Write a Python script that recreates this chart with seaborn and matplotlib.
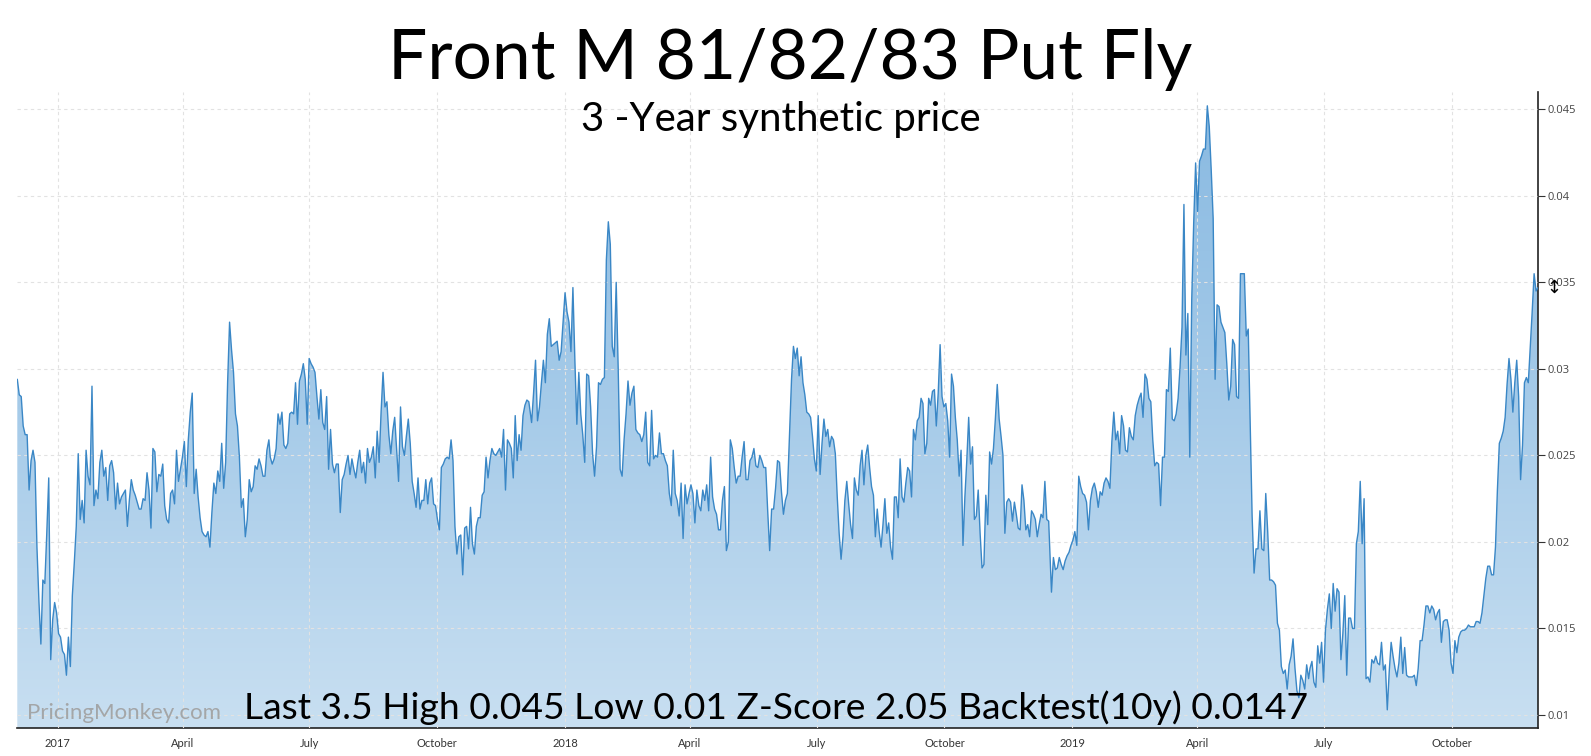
import matplotlib
matplotlib.use('Agg')
import matplotlib.pyplot as plt
import matplotlib.dates as mdates
from matplotlib.colors import LinearSegmentedColormap
import numpy as np
import pandas as pd
import seaborn as sns

# values, one list per stretch of time
seg1_dates = ('2016-12-03', '2017-06-02')
seg1 = [0.0294, 0.0285, 0.0284, 0.0267, 0.0262, 0.0262, 0.0230, 0.0247, 0.0253, 0.0246, 0.0197, 0.0166,
        0.0141, 0.0178, 0.0176, 0.0205, 0.0237, 0.0132, 0.0155, 0.0165, 0.0159, 0.0147, 0.0145, 0.0137,
        0.0135, 0.0123, 0.0145, 0.0128, 0.0169, 0.0188, 0.0209, 0.0251, 0.0213, 0.0224, 0.0211, 0.0253,
        0.0238, 0.0233, 0.0290, 0.0221, 0.0230, 0.0225, 0.0246, 0.0253, 0.0238, 0.0243, 0.0224, 0.0244,
        0.0247, 0.0240, 0.0219, 0.0234, 0.0222, 0.0226, 0.0228, 0.0230, 0.0209, 0.0224, 0.0236, 0.0230,
        0.0227, 0.0223, 0.0219, 0.0219, 0.0225, 0.0224, 0.0240, 0.0230, 0.0208, 0.0254, 0.0252, 0.0229,
        0.0239, 0.0238, 0.0245, 0.0221, 0.0213, 0.0211, 0.0228, 0.0230, 0.0222, 0.0253, 0.0235, 0.0242,
        0.0249, 0.0258, 0.0232, 0.0259, 0.0275, 0.0286, 0.0228, 0.0242, 0.0226, 0.0214, 0.0206, 0.0204,
        0.0203, 0.0206, 0.0197, 0.0217, 0.0234, 0.0228, 0.0241, 0.0235, 0.0257, 0.0231, 0.0246, 0.0292,
        0.0327, 0.0311, 0.0298, 0.0274, 0.0267, 0.0249, 0.0220, 0.0225, 0.0203, 0.0213, 0.0236, 0.0229,
        0.0232, 0.0244, 0.0242, 0.0248, 0.0244, 0.0238, 0.0238, 0.0253, 0.0259]

seg2_dates = ('2017-06-03', '2017-12-06')
seg2 = [0.0249, 0.0245, 0.0248, 0.0254, 0.0274, 0.0268, 0.0275, 0.0256, 0.0254, 0.0257, 0.0274, 0.0275,
        0.0274, 0.0292, 0.0268, 0.0293, 0.0297, 0.0303, 0.0294, 0.0268, 0.0306, 0.0303, 0.0301, 0.0298,
        0.0284, 0.0271, 0.0288, 0.0269, 0.0265, 0.0284, 0.0242, 0.0265, 0.0245, 0.0240, 0.0245, 0.0245,
        0.0217, 0.0236, 0.0239, 0.0245, 0.0250, 0.0239, 0.0248, 0.0242, 0.0237, 0.0246, 0.0253, 0.0240,
        0.0246, 0.0234, 0.0254, 0.0246, 0.0249, 0.0255, 0.0237, 0.0264, 0.0246, 0.0275, 0.0298, 0.0278,
        0.0281, 0.0262, 0.0251, 0.0264, 0.0272, 0.0253, 0.0235, 0.0278, 0.0255, 0.0250, 0.0261, 0.0271,
        0.0257, 0.0235, 0.0228, 0.0220, 0.0237, 0.0219, 0.0224, 0.0224, 0.0236, 0.0222, 0.0234, 0.0237,
        0.0222, 0.0221, 0.0213, 0.0207, 0.0243, 0.0245, 0.0248, 0.0249, 0.0248, 0.0259, 0.0247, 0.0209,
        0.0193, 0.0203, 0.0204, 0.0181, 0.0208, 0.0209, 0.0196, 0.0220, 0.0199, 0.0193, 0.0209, 0.0214,
        0.0214, 0.0227, 0.0229, 0.0249, 0.0237, 0.0247, 0.0254, 0.0251, 0.0250, 0.0252, 0.0254, 0.0249,
        0.0265, 0.0230, 0.0259, 0.0257, 0.0254, 0.0237, 0.0273, 0.0247, 0.0262, 0.0253, 0.0273, 0.0279,
        0.0282, 0.0281]

seg3_dates = ('2017-12-08', '2018-06-10')
seg3 = [0.0269, 0.0286, 0.0305, 0.0270, 0.0278, 0.0292, 0.0305, 0.0292, 0.0320, 0.0329, 0.0313, 0.0314,
        0.0315, 0.0316, 0.0305, 0.0310, 0.0327, 0.0344, 0.0333, 0.0327, 0.0310, 0.0347, 0.0305, 0.0268,
        0.0298, 0.0274, 0.0262, 0.0246, 0.0297, 0.0296, 0.0278, 0.0251, 0.0238, 0.0255, 0.0292, 0.0291,
        0.0294, 0.0295, 0.0363, 0.0385, 0.0372, 0.0313, 0.0307, 0.0350, 0.0301, 0.0242, 0.0238, 0.0259,
        0.0274, 0.0293, 0.0279, 0.0286, 0.0290, 0.0265, 0.0263, 0.0262, 0.0258, 0.0262, 0.0275, 0.0246,
        0.0244, 0.0276, 0.0248, 0.0250, 0.0249, 0.0263, 0.0251, 0.0251, 0.0247, 0.0244, 0.0228, 0.0221,
        0.0253, 0.0228, 0.0224, 0.0215, 0.0234, 0.0202, 0.0233, 0.0222, 0.0228, 0.0233, 0.0228, 0.0211,
        0.0230, 0.0221, 0.0218, 0.0230, 0.0224, 0.0233, 0.0218, 0.0249, 0.0226, 0.0219, 0.0216, 0.0207,
        0.0207, 0.0224, 0.0232, 0.0195, 0.0200, 0.0259, 0.0254, 0.0243, 0.0234, 0.0238, 0.0238, 0.0249,
        0.0258, 0.0236, 0.0236, 0.0247, 0.0249, 0.0254, 0.0244, 0.0243, 0.0250, 0.0247, 0.0243, 0.0243,
        0.0218, 0.0195, 0.0219, 0.0219, 0.0231, 0.0247, 0.0246, 0.0229, 0.0216, 0.0224, 0.0228]

seg4_dates = ('2018-06-13', '2018-12-15')
seg4 = [0.0294, 0.0313, 0.0306, 0.0312, 0.0296, 0.0307, 0.0292, 0.0285, 0.0275, 0.0274, 0.0272, 0.0261,
        0.0248, 0.0241, 0.0273, 0.0239, 0.0257, 0.0271, 0.0261, 0.0265, 0.0255, 0.0261, 0.0259, 0.0251,
        0.0226, 0.0205, 0.0190, 0.0203, 0.0224, 0.0235, 0.0222, 0.0210, 0.0202, 0.0237, 0.0230, 0.0227,
        0.0244, 0.0253, 0.0233, 0.0250, 0.0256, 0.0243, 0.0232, 0.0227, 0.0203, 0.0219, 0.0206, 0.0197,
        0.0210, 0.0225, 0.0205, 0.0211, 0.0197, 0.0190, 0.0226, 0.0226, 0.0214, 0.0248, 0.0226, 0.0223,
        0.0234, 0.0243, 0.0241, 0.0226, 0.0265, 0.0259, 0.0270, 0.0272, 0.0283, 0.0280, 0.0251, 0.0257,
        0.0283, 0.0279, 0.0287, 0.0288, 0.0267, 0.0286, 0.0314, 0.0284, 0.0278, 0.0280, 0.0270, 0.0249,
        0.0297, 0.0290, 0.0272, 0.0259, 0.0238, 0.0253, 0.0198, 0.0226, 0.0247, 0.0272, 0.0245, 0.0255,
        0.0213, 0.0215, 0.0230, 0.0205, 0.0185, 0.0187, 0.0227, 0.0210, 0.0252, 0.0245, 0.0254, 0.0271,
        0.0291, 0.0271, 0.0261, 0.0250, 0.0205, 0.0223, 0.0225, 0.0223, 0.0212, 0.0223, 0.0216, 0.0208,
        0.0207, 0.0233, 0.0224, 0.0207, 0.0210, 0.0203, 0.0218, 0.0216, 0.0213, 0.0203, 0.0210, 0.0216,
        0.0214, 0.0235, 0.0213, 0.0212]

seg5_dates = ('2018-12-17', '2019-06-20')
seg5 = [0.0171, 0.0191, 0.0184, 0.0185, 0.0191, 0.0187, 0.0184, 0.0189, 0.0192, 0.0194, 0.0198, 0.0201,
        0.0206, 0.0198, 0.0238, 0.0232, 0.0228, 0.0227, 0.0223, 0.0207, 0.0224, 0.0231, 0.0234, 0.0229,
        0.0220, 0.0229, 0.0227, 0.0234, 0.0237, 0.0235, 0.0231, 0.0258, 0.0275, 0.0259, 0.0264, 0.0251,
        0.0273, 0.0267, 0.0253, 0.0252, 0.0266, 0.0261, 0.0259, 0.0273, 0.0279, 0.0283, 0.0286, 0.0272,
        0.0297, 0.0294, 0.0283, 0.0281, 0.0259, 0.0244, 0.0246, 0.0245, 0.0221, 0.0249, 0.0249, 0.0288,
        0.0287, 0.0312, 0.0271, 0.0270, 0.0274, 0.0283, 0.0301, 0.0324, 0.0395, 0.0308, 0.0332, 0.0249,
        0.0340, 0.0384, 0.0419, 0.0391, 0.0420, 0.0423, 0.0427, 0.0427, 0.0452, 0.0440, 0.0415, 0.0387,
        0.0294, 0.0337, 0.0336, 0.0327, 0.0324, 0.0321, 0.0303, 0.0282, 0.0290, 0.0317, 0.0314, 0.0284,
        0.0283, 0.0355, 0.0355, 0.0355, 0.0319, 0.0323, 0.0270, 0.0215, 0.0182, 0.0196, 0.0196, 0.0218,
        0.0196, 0.0195, 0.0228, 0.0206, 0.0178, 0.0178, 0.0177, 0.0175, 0.0153, 0.0149, 0.0128, 0.0124,
        0.0126, 0.0115, 0.0129, 0.0134, 0.0144, 0.0127, 0.0114, 0.0110, 0.0123, 0.0120, 0.0115, 0.0129,
        0.0121]

seg6_dates = ('2019-06-21', '2019-12-02')
seg6 = [0.0127, 0.0131, 0.0119, 0.0116, 0.0140, 0.0130, 0.0142, 0.0119, 0.0149, 0.0161, 0.0170, 0.0150,
        0.0176, 0.0160, 0.0173, 0.0171, 0.0132, 0.0147, 0.0169, 0.0123, 0.0156, 0.0156, 0.0150, 0.0150,
        0.0199, 0.0206, 0.0235, 0.0199, 0.0225, 0.0121, 0.0122, 0.0119, 0.0132, 0.0130, 0.0134, 0.0130,
        0.0129, 0.0142, 0.0126, 0.0129, 0.0103, 0.0125, 0.0142, 0.0134, 0.0127, 0.0122, 0.0130, 0.0145,
        0.0124, 0.0139, 0.0123, 0.0122, 0.0122, 0.0122, 0.0123, 0.0117, 0.0127, 0.0143, 0.0143, 0.0152,
        0.0163, 0.0163, 0.0159, 0.0163, 0.0161, 0.0155, 0.0159, 0.0161, 0.0142, 0.0154, 0.0155, 0.0155,
        0.0149, 0.0130, 0.0124, 0.0143, 0.0136, 0.0145, 0.0148, 0.0149, 0.0149, 0.0150, 0.0152, 0.0151,
        0.0151, 0.0151, 0.0154, 0.0154, 0.0153, 0.0159, 0.0169, 0.0179, 0.0186, 0.0186, 0.0181, 0.0181,
        0.0197, 0.0230, 0.0257, 0.0260, 0.0264, 0.0272, 0.0291, 0.0306, 0.0294, 0.0275, 0.0292, 0.0305,
        0.0284, 0.0236, 0.0256, 0.0292, 0.0295, 0.0292, 0.0312, 0.0333, 0.0355, 0.0345, 0.0347]

y_ticks = [0.01, 0.015, 0.02, 0.025, 0.03, 0.035, 0.04, 0.045]
y_range = (0.00925, 0.046)

title = 'Front M 81/82/83 Put Fly'
subtitle = '3 -Year synthetic price'
stats = 'Last 3.5 High 0.045 Low 0.01 Z-Score 2.05 Backtest(10y) 0.0147'
watermark = 'PricingMonkey.com'

segments = [(seg1_dates, seg1), (seg2_dates, seg2), (seg3_dates, seg3),
            (seg4_dates, seg4), (seg5_dates, seg5), (seg6_dates, seg6)]
parts = []
for (d0, d1), vals in segments:
    parts.append(pd.DataFrame({'date': pd.date_range(d0, d1, periods=len(vals)), 'price': vals}))
df = pd.concat(parts, ignore_index=True)

sns.set_style('white')
plt.rcParams['font.family'] = ['Lato', 'DejaVu Sans']

fig = plt.figure(figsize=(15.91, 7.56), dpi=100)
ax = fig.add_axes([0.01087, 0.03704, 0.9558, 0.8413])

x_lim = (pd.Timestamp(seg1_dates[0]), pd.Timestamp(seg6_dates[1]))

# gradient fill under the curve
poly = ax.fill_between(df['date'], df['price'], y_range[0], color='none', lw=0)
cmap = LinearSegmentedColormap.from_list('pm', ['#c8dff1', '#a6cbe9', '#88b9e1'])
grad = np.linspace(0, 1, 256).reshape(-1, 1)
img = ax.imshow(grad, extent=[mdates.date2num(x_lim[0]), mdates.date2num(x_lim[1]), y_range[0], y_range[1]],
                origin='lower', aspect='auto', cmap=cmap, zorder=1)
img.set_clip_path(poly.get_paths()[0], transform=ax.transData)

sns.lineplot(data=df, x='date', y='price', ax=ax, color='#3a87c6', lw=1.0, zorder=3)

ax.set_xlim(x_lim)
ax.set_ylim(y_range)
ax.set_xlabel('')
ax.set_ylabel('')

q_ticks = pd.date_range('2017-01-01', '2019-10-01', freq='QS')
ax.set_xticks(q_ticks)
ax.set_xticklabels([str(d.year) if d.month == 1 else d.strftime('%B') for d in q_ticks])
ax.yaxis.tick_right()
ax.set_yticks(y_ticks)
ax.set_yticklabels([f'{v:g}' for v in y_ticks], family='Open Sans')

ax.tick_params(axis='x', length=4, width=0.8, color='#333333', labelsize=8, labelcolor='#333333', pad=3)
ax.tick_params(axis='y', length=5, width=0.8, color='#333333', labelsize=8, labelcolor='#444444', pad=2)

ax.set_axisbelow(False)
ax.grid(True, color='#e2e2e2', lw=0.8, ls=(0, (3, 3)))
for s in ['left', 'top']:
    ax.spines[s].set_visible(False)
for s in ['right', 'bottom']:
    ax.spines[s].set_color('#222222')
    ax.spines[s].set_linewidth(1.2)

# cursor mark at last value
ax.text(1.0105, df['price'].iloc[-1], '\u2195', transform=ax.get_yaxis_transform(),
        ha='center', va='center', fontsize=13, family='DejaVu Sans', color='black')

fig.text(0.4966, 1 - 79 / 756, title, ha='center', va='baseline', fontsize=50, color='black')
fig.text(0.491, 1 - 131 / 756, subtitle, ha='center', va='baseline', fontsize=29, color='black')
fig.text(0.488, 1 - 719 / 756, stats, ha='center', va='baseline', fontsize=26.8, color='black', zorder=5)
fig.text(26.7 / 1591, 1 - 719 / 756, watermark, ha='left', va='baseline', fontsize=16, color='#a0a0a0',
         alpha=0.9, zorder=5)

fig.savefig('out.png', dpi=100)
